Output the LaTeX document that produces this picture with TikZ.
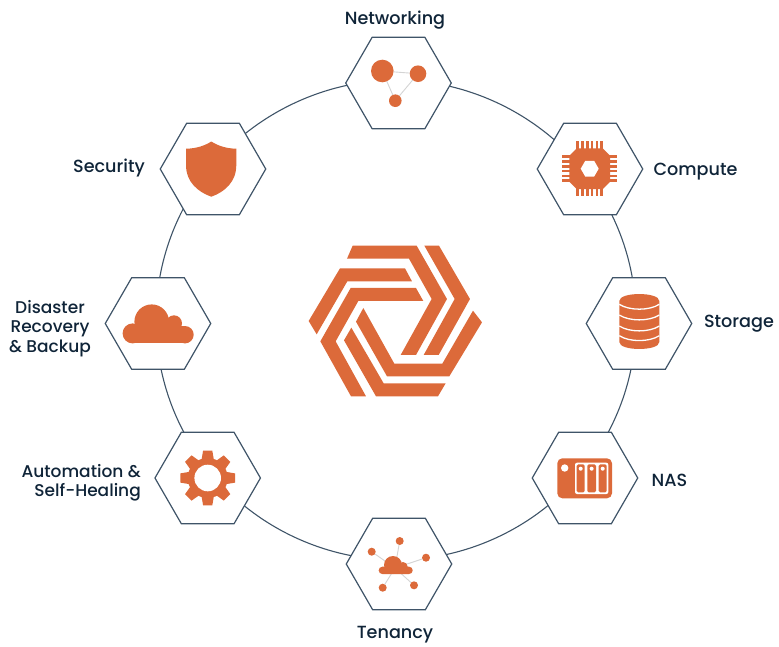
\documentclass[tikz,border=0pt]{standalone}
\usepackage{fontspec}
\setmainfont{Poppins}[UprightFont=* Medium]
\usetikzlibrary{shapes.geometric,backgrounds}
\definecolor{accent}{HTML}{DC6A3A}
\definecolor{ink}{HTML}{0F2438}
\definecolor{edge}{HTML}{3F5468}
\definecolor{spoke}{HTML}{D4D4D4}
\tikzset{
  hexbox/.style={regular polygon,regular polygon sides=6,minimum size=105.5pt,inner sep=0pt,outer sep=0pt,draw=edge,line width=1.2pt,fill=white},
  ring/.style={draw=edge,line width=1.1pt,looseness=.885},
  lbl/.style={font=\fontsize{17.6}{19.2}\selectfont,text=ink,inner sep=0pt,align=center},
  lblsmall/.style={lbl,font=\fontsize{17}{19.2}\selectfont},
  dot/.style={circle,fill=accent,inner sep=0pt,outer sep=0pt},
  spokeline/.style={draw=spoke,line width=.9pt},
  logopart/.style={fill=accent},
}
\begin{document}
\begin{tikzpicture}[x=1pt,y=-1pt]
\useasboundingbox (0,0) rectangle (779,646);
% hexagons
\node[hexbox] (net) at (398.5,83) {};
\node[hexbox] (cmp) at (590,169) {};
\node[hexbox] (sto) at (639,323.5) {};
\node[hexbox] (nas) at (585,478) {};
\node[hexbox] (ten) at (399,564) {};
\node[hexbox] (aut) at (207.7,478) {};
\node[hexbox] (dis) at (158,323.5) {};
\node[hexbox] (sec) at (213,169) {};
% ring: points hidden under each hexagon, on a circle of radius 240
\coordinate (hub) at (396,320);
\path (hub) ++(-89.4:240) coordinate (rnet);
\path (hub) ++(-37.9:240) coordinate (rcmp);
\path (hub) ++(0.8:240) coordinate (rsto);
\path (hub) ++(39.9:240) coordinate (rnas);
\path (hub) ++(89.3:240) coordinate (rten);
\path (hub) ++(140:240) coordinate (raut);
\path (hub) ++(180.8:240) coordinate (rdis);
\path (hub) ++(219.5:240) coordinate (rsec);
\begin{scope}[on background layer]
\draw[ring] (rnet) to[bend left=25.75] (rcmp);
\draw[ring] (rcmp) to[bend left=19.35] (rsto);
\draw[ring] (rsto) to[bend left=19.55] (rnas);
\draw[ring] (rnas) to[bend left=24.7] (rten);
\draw[ring] (rten) to[bend left=25.35] (raut);
\draw[ring] (raut) to[bend left=20.4] (rdis);
\draw[ring] (rdis) to[bend left=19.35] (rsec);
\draw[ring] (rsec) to[bend left=25.45] (rnet);
\end{scope}
% labels
\node[lbl] (lnet) at (395,20) {Networking};
\node[lbl] (lcmp) at (695.5,172) {Compute};
\node[lbl] (lsto) at (739,323.5) {Storage};
\node[lbl] (lnas) at (669.5,480) {NAS};
\node[lbl] (lten) at (395,634.5) {Tenancy};
\node[lblsmall,align=right,anchor=east] (laut) at (141,483) {Automation \&\\Self-Healing};
\node[lblsmall] (ldis) at (50,328.5) {Disaster\\Recovery\\\& Backup};
\node[lbl] (lsec) at (109,168) {Security};
% logo
\begin{scope}[shift={(290,225)},x=.3333pt,y=-.3333pt]
\fill[logopart] (188,62)--(380,62)--(471,222)--(378,390)--(332,390)--(425,222)--(357,101)--(171,101)--cycle;
\fill[logopart] (403,62)--(447,62)--(540,222)--(446,390)--(401,390)--(494,222)--cycle;
\fill[logopart] (549,257)--(576,292)--(478,454)--(291,454)--(198,290)--(220,249)--(313,416)--(457,416)--cycle;
\fill[logopart] (184,308)--(281,475)--(467,475)--(444,514)--(258,514)--(162,346)--cycle;
\fill[logopart] (91,349)--(182,189)--(378,189)--(400,228)--(205,228)--(137,349)--(228,514)--(183,514)--cycle;
\fill[logopart] (150,130)--(345,130)--(366,169)--(172,169)--(80,328)--(56,288)--cycle;
\end{scope}
% networking icon
\node[dot,minimum size=22.6pt] (n1) at (382.3,71) {};
\node[dot,minimum size=16.6pt] (n2) at (418,73.7) {};
\node[dot,minimum size=12.6pt] (n3) at (395.3,100.7) {};
\draw[spokeline] (n1)--(n2);
\draw[spokeline] (n2)--(n3);
\draw[spokeline] (n3)--(n1);
% compute icon
\begin{scope}[shift={(589.7,168.7)}]
\foreach \o in {-12,-7.2,-2.4,2.4,7.2,12}{
  \fill[accent] (\o-1.3,-27.5) rectangle (\o+1.3,27.5);
  \fill[accent] (-27.5,\o-1.3) rectangle (27.5,\o+1.3);
}
\fill[accent] (-13,-20.4)--(13,-20.4)--(20.4,-13)--(20.4,13)--(13,20.4)--(-13,20.4)--(-20.4,13)--(-20.4,-13)--cycle;
\fill[white] (-9,0)--(-4.5,-7.8)--(4.5,-7.8)--(9,0)--(4.5,7.8)--(-4.5,7.8)--cycle;
\end{scope}
% storage icon
\begin{scope}[shift={(639.3,0)}]
\fill[accent] (-20,301) .. controls (-20,291.7) and (20,291.7) .. (20,301) -- (20,342) .. controls (20,351.3) and (-20,351.3) .. (-20,342) -- cycle;
\foreach \e in {304.3,315,326,335.7}{
  \draw[white,line width=1.3pt] (-20,\e) .. controls (-10,\e+6.5) and (10,\e+6.5) .. (20,\e);
}
\end{scope}
% NAS icon
\fill[accent,rounded corners=5pt] (557.3,458.3) rectangle (612,498.3);
\fill[white] (564.7,468) circle (3.7);
\fill[white,rounded corners=2pt] (575,462.7) rectangle (608.3,494);
\foreach \a/\b in {576.7/584.7,587.3/596,598.7/606.7}{
  \fill[accent,rounded corners=1.5pt] (\a,464.3) rectangle (\b,492.3);
  \fill[white] ({(\a+\b)/2},468.7) circle (2);
}
% tenancy icon
\node[dot,minimum size=8pt] (t1) at (399.7,541) {};
\node[dot,minimum size=8pt] (t2) at (371.7,551.7) {};
\node[dot,minimum size=8pt] (t3) at (426,557.7) {};
\node[dot,minimum size=8pt] (t4) at (414,585.3) {};
\node[dot,minimum size=8pt] (t5) at (382.7,587.7) {};
\coordinate (thub) at (395,568);
\foreach \t in {t1,t2,t3,t4,t5}{\draw[spokeline] (thub)--(\t);}
\fill[accent] (393,565) circle (9);
\fill[accent] (403,566.7) circle (4.7);
\fill[accent,rounded corners=3.6pt] (378.7,566.7) rectangle (412.7,574);
% automation icon
\begin{scope}[shift={(207.7,478)}]
\foreach \a in {0,45,...,315}{
  \fill[accent,rotate=\a] (-6.2,-18)--(-4.6,-27.4)--(4.6,-27.4)--(6.2,-18)--cycle;
}
\fill[accent] (0,0) circle (20);
\fill[white] (0,0) circle (13.3);
\end{scope}
% disaster recovery icon
\fill[accent] (151.7,321.7) circle (17.3);
\fill[accent] (174,323.3) circle (8);
\fill[accent] (185,334.7) circle (8.7);
\fill[accent] (132.6,333.4) circle (10);
\fill[accent] (132.6,326) rectangle (185,343.4);
% security icon
\fill[accent] (211.3,141.5) .. controls (205,145.5) and (197,148.5) .. (186,148.7)
  -- (186,165) .. controls (186,182) and (198,192) .. (211.3,196.7)
  .. controls (224.6,192) and (236.3,182) .. (236.3,165) -- (236.3,148.7)
  .. controls (225.6,148.5) and (217.6,145.5) .. cycle;
\end{tikzpicture}
\end{document}
